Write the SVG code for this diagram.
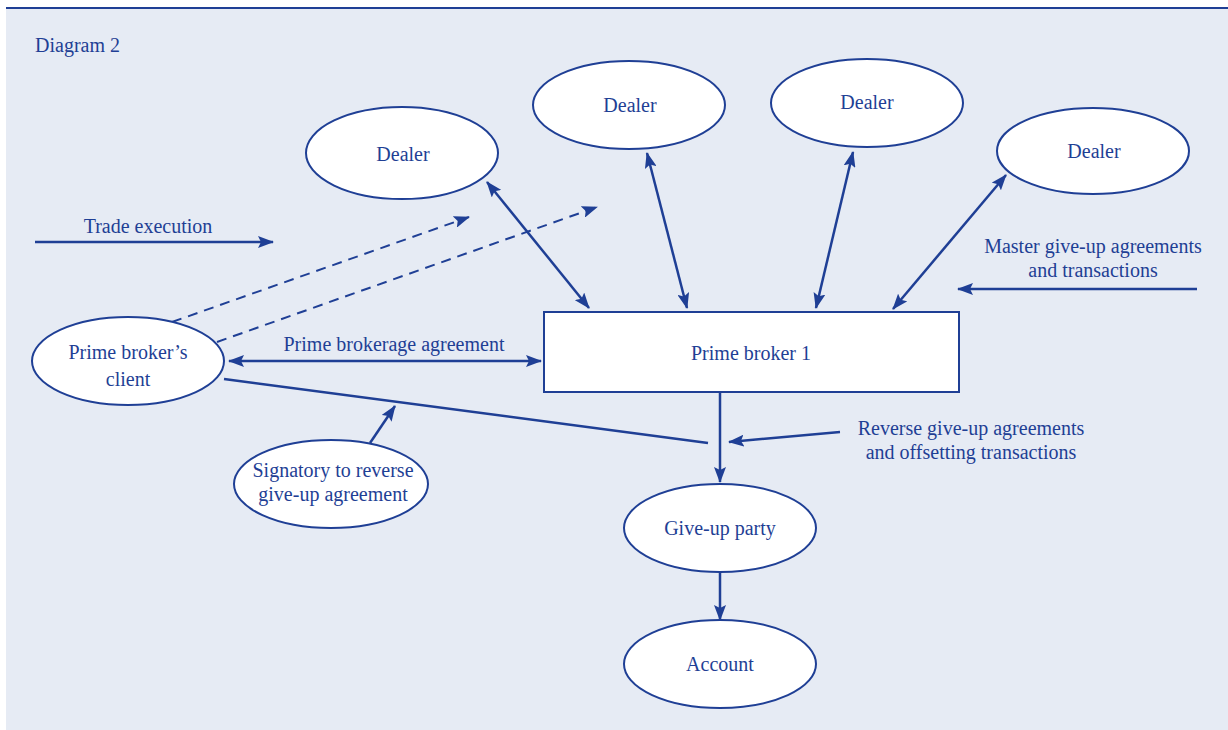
<svg xmlns="http://www.w3.org/2000/svg" width="1228" height="730" viewBox="0 0 1228 730">
<defs>
<style>
.bg{fill:#E6EBF4}
.node{fill:#FFFFFF;stroke:#1F3F95;stroke-width:2}
.t{font-family:"Liberation Serif","DejaVu Serif",serif;font-size:20px;fill:#1F3F95;text-anchor:middle}
.tl{font-family:"Liberation Serif","DejaVu Serif",serif;font-size:20px;fill:#1F3F95}
.c{stroke:#1F3F95;stroke-width:2.5;fill:none}
.d{stroke:#1F3F95;stroke-width:2;fill:none;stroke-dasharray:10 7}
</style>
<marker id="ah" markerUnits="userSpaceOnUse" markerWidth="16" markerHeight="12" refX="15" refY="6" orient="auto-start-reverse" viewBox="0 0 16 12">
<path d="M0,0 L16,6 L0,12 L3,6 z" fill="#1F3F95"/>
</marker>
</defs>
<rect class="bg" x="6" y="8" width="1222" height="722"/>
<line x1="6" y1="8" x2="1228" y2="8" stroke="#1F3F95" stroke-width="2"/>
<text class="tl" x="35" y="52">Diagram 2</text>

<g id="connectors">
<line class="c" x1="35" y1="242" x2="273" y2="242" marker-end="url(#ah)"/>
<line class="c" x1="1197" y1="289" x2="958" y2="289" marker-end="url(#ah)"/>
<line class="c" x1="229" y1="361" x2="541" y2="361" marker-start="url(#ah)" marker-end="url(#ah)"/>
<line class="c" x1="487" y1="182" x2="589" y2="308" marker-start="url(#ah)" marker-end="url(#ah)"/>
<line class="c" x1="647" y1="153" x2="687" y2="308" marker-start="url(#ah)" marker-end="url(#ah)"/>
<line class="c" x1="853" y1="152" x2="816" y2="308" marker-start="url(#ah)" marker-end="url(#ah)"/>
<line class="c" x1="1006" y1="175" x2="893" y2="309" marker-start="url(#ah)" marker-end="url(#ah)"/>
<line class="d" x1="172" y1="322" x2="469" y2="217" marker-end="url(#ah)"/>
<line class="d" x1="217" y1="342" x2="597" y2="207" marker-end="url(#ah)"/>
<line class="c" x1="224" y1="379" x2="708" y2="443"/>
<line class="c" x1="370" y1="443" x2="395" y2="406" marker-end="url(#ah)"/>
<line class="c" x1="840" y1="432" x2="729" y2="442" marker-end="url(#ah)"/>
<line class="c" x1="720" y1="392" x2="720" y2="482" marker-end="url(#ah)"/>
<line class="c" x1="720" y1="573" x2="720" y2="620" marker-end="url(#ah)"/>
</g>

<g id="labels">
<text class="t" x="148" y="233">Trade execution</text>
<text class="t" x="1093" y="253">Master give-up agreements</text>
<text class="t" x="1093" y="277">and transactions</text>
<text class="t" x="394" y="351">Prime brokerage agreement</text>
<text class="t" x="971" y="435">Reverse give-up agreements</text>
<text class="t" x="971" y="459">and offsetting transactions</text>
</g>

<g id="dealer1"><ellipse class="node" cx="402" cy="153" rx="96" ry="46"/><text class="t" x="403" y="161">Dealer</text></g>
<g id="dealer2"><ellipse class="node" cx="629" cy="105" rx="96" ry="44"/><text class="t" x="630" y="112">Dealer</text></g>
<g id="dealer3"><ellipse class="node" cx="867" cy="103" rx="96" ry="44"/><text class="t" x="867" y="109">Dealer</text></g>
<g id="dealer4"><ellipse class="node" cx="1093" cy="151" rx="96" ry="43"/><text class="t" x="1094" y="158">Dealer</text></g>
<g id="client"><ellipse class="node" cx="128" cy="361" rx="96" ry="44"/><text class="t" x="128" y="359">Prime broker’s</text><text class="t" x="128" y="386">client</text></g>
<g id="primebroker"><rect class="node" x="544" y="312" width="415" height="80"/><text class="t" x="751" y="360">Prime broker 1</text></g>
<g id="signatory"><ellipse class="node" cx="331" cy="484" rx="97" ry="44"/><text class="t" x="333" y="477">Signatory to reverse</text><text class="t" x="333" y="501">give-up agreement</text></g>
<g id="giveup"><ellipse class="node" cx="720" cy="528" rx="96" ry="44"/><text class="t" x="720" y="535">Give-up party</text></g>
<g id="account"><ellipse class="node" cx="720" cy="664" rx="96" ry="44"/><text class="t" x="720" y="671">Account</text></g>
</svg>
